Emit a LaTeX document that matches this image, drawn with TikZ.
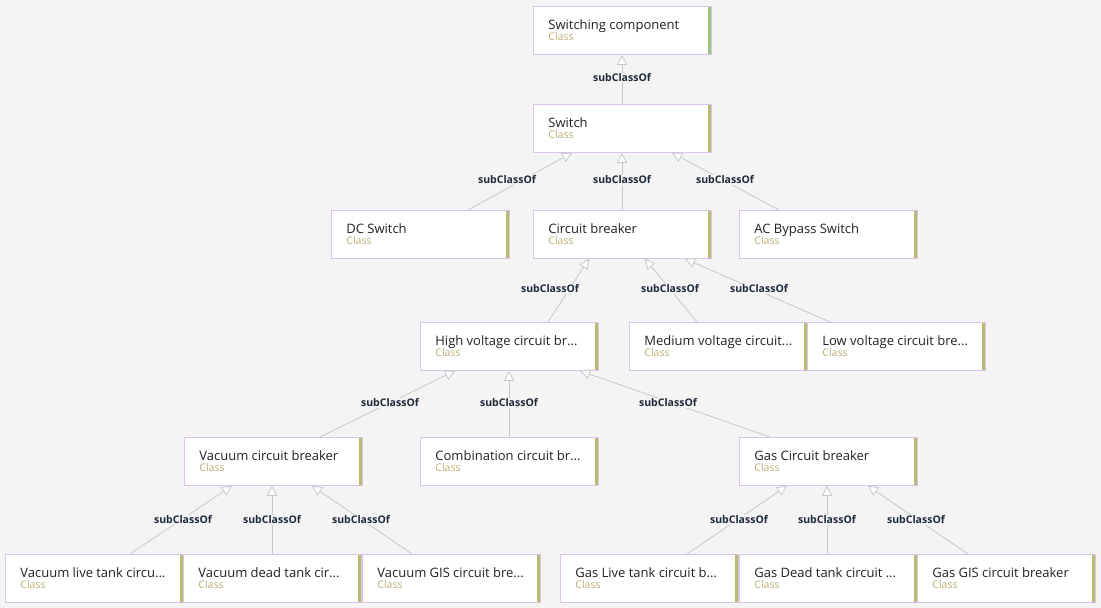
\documentclass[tikz,border=0pt]{standalone}
\usepackage{fontspec}
\setmainfont{Open Sans}
\usetikzlibrary{arrows.meta,calc}
\definecolor{bgc}{HTML}{F4F4F4}
\definecolor{bord}{HTML}{DCC3EC}
\definecolor{barg}{HTML}{9CC47A}
\definecolor{baro}{HTML}{B9BC6E}
\definecolor{clsc}{HTML}{B9AE72}
\definecolor{txt}{HTML}{222222}
\definecolor{lbl}{HTML}{1E2A3A}
\definecolor{edg}{HTML}{C8C8C8}
\tikzset{
 cls/.style={draw=bord,line width=0.8pt,fill=white,minimum width=178pt,minimum height=48pt,anchor=north west,
   align=left,text width=148pt,inner xsep=15pt,text=txt,
   path picture={\fill[#1] ($(path picture bounding box.north east)+(-3pt,0)$) rectangle (path picture bounding box.south east);}},
 cls/.default=baro,
 lab/.style={font=\fontsize{10.5}{12}\selectfont\bfseries,text=lbl,fill=bgc,inner sep=1pt},
 sub/.style={draw=edg,line width=0.8pt,-{Triangle[open,length=10pt,width=10pt,fill=white]}}
}
\newcommand{\cbox}[2]{{\fontsize{13}{14}\selectfont #1}\\[-1pt]{\fontsize{10.5}{12}\selectfont\color{clsc}#2}}
\begin{document}
\begin{tikzpicture}[x=1pt,y=-1pt]
\fill[bgc] (0,0) rectangle (1101,608);
\useasboundingbox (0,0) rectangle (1101,608);
\node[cls=barg] (sc) at (533,6) {\cbox{Switching component}{Class}};
\node[cls] (sw) at (533,104) {\cbox{Switch}{Class}};
\node[cls] (dc) at (331,210) {\cbox{DC Switch}{Class}};
\node[cls] (cb) at (533,210) {\cbox{Circuit breaker}{Class}};
\node[cls] (ac) at (739,210) {\cbox{AC Bypass Switch}{Class}};
\node[cls] (hv) at (420,322) {\cbox{High voltage circuit br...}{Class}};
\node[cls] (mv) at (629,322) {\cbox{Medium voltage circuit...}{Class}};
\node[cls] (lv) at (807,322) {\cbox{Low voltage circuit bre...}{Class}};
\node[cls] (vcb) at (184,437) {\cbox{Vacuum circuit breaker}{Class}};
\node[cls] (comb) at (420,437) {\cbox{Combination circuit br...}{Class}};
\node[cls] (gas) at (739,437) {\cbox{Gas Circuit breaker}{Class}};
\node[cls] (vl) at (5,554) {\cbox{Vacuum live tank circu...}{Class}};
\node[cls] (vd) at (183,554) {\cbox{Vacuum dead tank cir...}{Class}};
\node[cls] (vg) at (362,554) {\cbox{Vacuum GIS circuit bre...}{Class}};
\node[cls] (gl) at (560,554) {\cbox{Gas Live tank circuit b...}{Class}};
\node[cls] (gd) at (739,554) {\cbox{Gas Dead tank circuit ...}{Class}};
\node[cls] (gg) at (917,554) {\cbox{Gas GIS circuit breaker}{Class}};
\newcommand{\edge}[6]{%
 \draw[sub] ($(#1.north west)+(#2,0)$) -- ($(#3.south west)+(#4,0)$);
 \node[lab] at (#5,#6) {subClassOf};}
\edge{sw}{89}{sc}{89}{622}{78}
\edge{dc}{137}{sw}{39}{507}{180}
\edge{cb}{89}{sw}{89}{622}{180}
\edge{ac}{40}{sw}{139}{725}{180}
\edge{hv}{128}{cb}{56}{550}{289}
\edge{mv}{68}{cb}{112}{670}{289}
\edge{lv}{23}{cb}{152}{759}{289}
\edge{vcb}{136}{hv}{35}{390}{403}
\edge{comb}{89}{hv}{89}{509}{403}
\edge{gas}{31}{hv}{160}{668}{403}
\edge{vl}{125}{vcb}{48}{183}{520}
\edge{vd}{89}{vcb}{88}{272}{520}
\edge{vg}{50}{vcb}{128}{361}{520}
\edge{gl}{127}{gas}{48}{739}{520}
\edge{gd}{88}{gas}{88}{827}{520}
\edge{gg}{51}{gas}{129}{916}{520}
\end{tikzpicture}
\end{document}
